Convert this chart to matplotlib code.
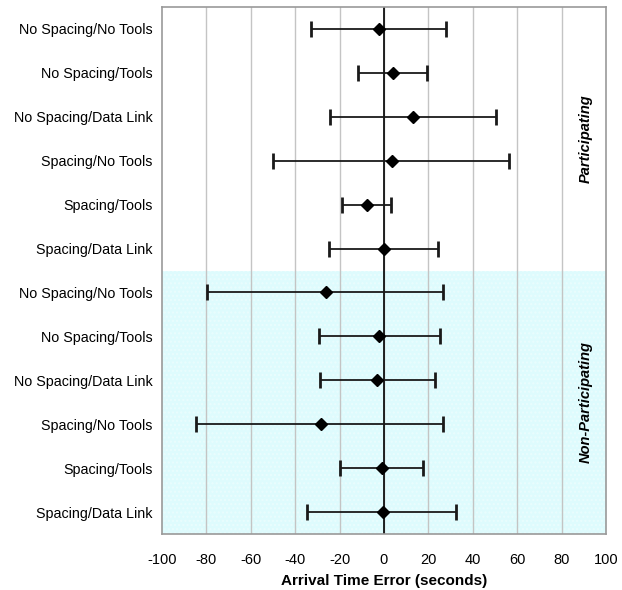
import matplotlib
matplotlib.use("Agg")
import matplotlib.pyplot as plt
import numpy as np

plt.rcParams['font.family'] = ['Liberation Sans', 'DejaVu Sans']

conditions = ["No Spacing/No Tools", "No Spacing/Tools", "No Spacing/Data Link",
              "Spacing/No Tools", "Spacing/Tools", "Spacing/Data Link"]
groups = ["Participating", "Non-Participating"]

part_mean = [-2.3, 4.2, 13.2, 3.7, -7.8, 0.1]
part_low = [-32.9, -11.6, -24.3, -49.8, -18.9, -24.9]
part_high = [27.9, 19.5, 50.4, 56.4, 3.2, 24.5]

nonpart_mean = [-26.1, -2.3, -3.0, -28.5, -0.8, -0.3]
nonpart_low = [-79.6, -29.4, -28.8, -84.7, -19.8, -34.5]
nonpart_high = [26.7, 25.2, 23.1, 26.7, 17.7, 32.4]

xticks = [-100, -80, -60, -40, -20, 0, 20, 40, 60, 80, 100]

labels = conditions + conditions
means = np.array(part_mean + nonpart_mean)
lows = np.array(part_low + nonpart_low)
highs = np.array(part_high + nonpart_high)
n = len(labels)
ypos = np.arange(n)

fig = plt.figure(figsize=(6.22, 5.90), dpi=100)
ax = fig.add_axes([162/622, 1-534/590, (606-162)/622, (534-7)/590])

ax.set_xlim(-100, 100)
ax.set_ylim(n - 0.5, -0.5)

# shaded non-participating region
ax.axhspan(5.5, n - 0.5, facecolor='#DEFBFD', edgecolor='#EAFDFE', hatch='....',
           linewidth=0, zorder=0)

for xv in xticks[1:-1]:
    ax.axvline(xv, color='#C4C4C4', linewidth=1.0, zorder=1)
ax.axvline(0, color='black', linewidth=1.2, zorder=2)

xerr = np.vstack([means - lows, highs - means])
ax.errorbar(means, ypos, xerr=xerr, fmt='D', color='black', ecolor='#1a1a1a',
            markersize=6.5, elinewidth=1.3, capsize=6, capthick=2, zorder=3)

ax.set_yticks(ypos)
ax.set_yticklabels(labels, fontsize=10.3)
ax.set_xticks(xticks)
ax.set_xticklabels([str(v) for v in xticks], fontsize=10.5)
ax.tick_params(axis='y', length=0, pad=7)
ax.tick_params(axis='x', length=0, pad=14)
ax.set_xlabel("Arrival Time Error (seconds)", fontsize=11, fontweight='bold', labelpad=5)

for sp in ax.spines.values():
    sp.set_color('#999999')
    sp.set_linewidth(1.2)

ax.text(91, 2.5, groups[0], rotation=90, ha='center', va='center',
        fontsize=10.5, fontweight='bold', style='italic')
ax.text(91, 8.5, groups[1], rotation=90, ha='center', va='center',
        fontsize=10.5, fontweight='bold', style='italic')

fig.savefig("out.png", dpi=100, facecolor='white')
